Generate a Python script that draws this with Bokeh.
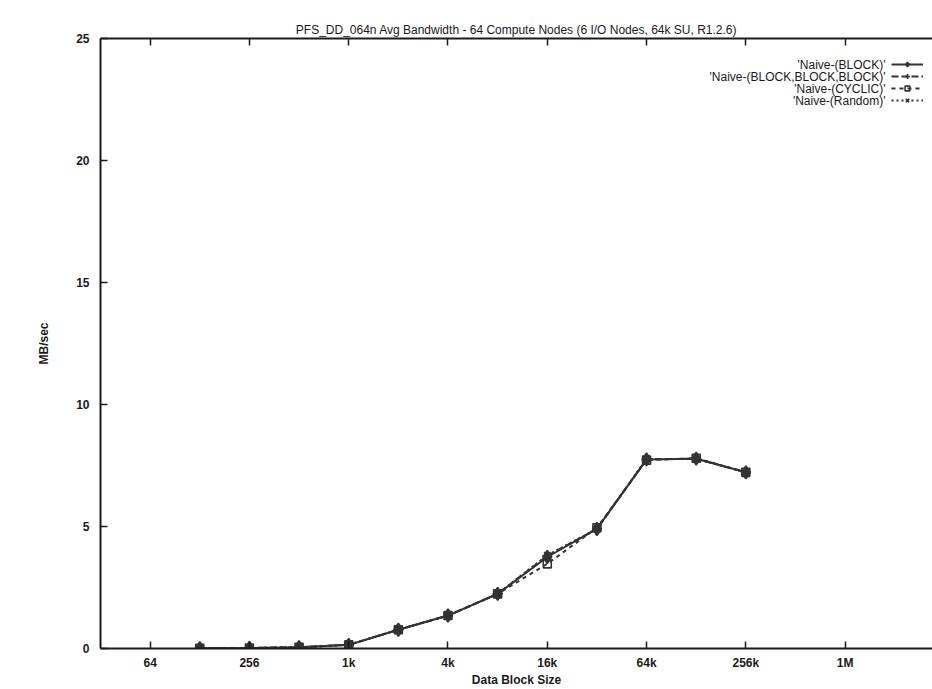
from bokeh.plotting import figure
from bokeh.models import (FixedTicker, LinearAxis, Label, Legend, LegendItem, Range1d)
from bokeh.embed import file_html
from bokeh.resources import INLINE

# ---- data ----
block_sizes = [128, 256, 512, 1024, 2048, 4096, 8192, 16384, 32768, 65536, 131072, 262144]
naive_block = [0.01, 0.02, 0.05, 0.15, 0.77, 1.35, 2.24, 3.75, 4.90, 7.75, 7.78, 7.22]
naive_bbb = [0.01, 0.02, 0.05, 0.15, 0.77, 1.35, 2.24, 3.80, 4.90, 7.75, 7.78, 7.22]
naive_cyclic = [0.01, 0.02, 0.05, 0.15, 0.77, 1.35, 2.24, 3.47, 4.95, 7.72, 7.80, 7.22]
naive_random = [0.01, 0.02, 0.05, 0.15, 0.77, 1.35, 2.24, 3.82, 4.90, 7.77, 7.77, 7.22]
x_tick_values = [64, 256, 1024, 4096, 16384, 65536, 262144, 1048576]
x_tick_labels = ["64", "256", "1k", "4k", "16k", "64k", "256k", "1M"]
y_tick_values = [0, 5, 10, 15, 20, 25]

title = "PFS_DD_064n Avg Bandwidth - 64 Compute Nodes (6 I/O Nodes, 64k SU, R1.2.6)"
FONT = "Liberation Sans"
INK = "#1a1a1a"
LINE = "#333333"

p = figure(width=932, height=689, output_backend="svg", toolbar_location=None,
           x_axis_type="log", x_range=Range1d(32, 2 ** 21.76), y_range=Range1d(0, 25),
           min_border_left=100, min_border_right=0, min_border_top=38, min_border_bottom=41,
           title=title)
p.outline_line_color = None
p.grid.visible = False
p.background_fill_color = "white"
p.border_fill_color = "white"

p.title.align = "center"
p.title.text_font = FONT
p.title.text_font_size = "12px"
p.title.text_font_style = "normal"
p.title.text_color = INK
p.title.offset = 0
p.title.standoff = 4

# bottom axis
xa = p.xaxis[0]
xa.ticker = FixedTicker(ticks=x_tick_values, minor_ticks=[])
xa.major_label_overrides = {v: l for v, l in zip(x_tick_values, x_tick_labels)}
xa.axis_label = "Data Block Size"
# left axis
ya = p.yaxis[0]
ya.ticker = FixedTicker(ticks=y_tick_values, minor_ticks=[])
ya.axis_label = "MB/sec"

for ax in (xa, ya):
    ax.axis_line_color = INK
    ax.axis_line_width = 2
    ax.major_tick_in = 7
    ax.major_tick_out = 0
    ax.major_tick_line_color = INK
    ax.major_tick_line_width = 1.5
    ax.minor_tick_line_color = None
    ax.major_label_text_font = FONT
    ax.major_label_text_font_size = "12px"
    ax.major_label_text_font_style = "bold"
    ax.major_label_text_color = INK
    ax.axis_label_text_font = FONT
    ax.axis_label_text_font_size = "12px"
    ax.axis_label_text_font_style = "bold"
    ax.axis_label_text_color = INK

xa.major_label_standoff = 7
xa.axis_label_standoff = 0
ya.major_label_standoff = 11
ya.axis_label_standoff = 22

# top axis (ticks only)
top = LinearAxis()
top.ticker = FixedTicker(ticks=x_tick_values, minor_ticks=[])
top.axis_line_color = INK
top.axis_line_width = 2
top.major_tick_in = 7
top.major_tick_out = 0
top.major_tick_line_color = INK
top.major_tick_line_width = 1.5
top.minor_tick_line_color = None
top.major_label_text_font_size = "1px"
top.major_label_text_alpha = 0
top.major_label_standoff = 0
p.add_layout(top, "above")

# ---- series ----
series = [
    ("'Naive-(BLOCK)'", naive_block, "solid", "diamond", LINE, 13),
    ("'Naive-(BLOCK,BLOCK,BLOCK)'", naive_bbb, "7 3", "cross", None, 10),
    ("'Naive-(CYCLIC)'", naive_cyclic, "4 4", "square", "none", 8),
    ("'Naive-(Random)'", naive_random, "2 3", "x", None, 9),
]

items = []
for name, ys, dash, marker, fill, size in series:
    lr = p.line(block_sizes, ys, line_color=LINE, line_width=2, line_dash=dash)
    if fill == "none":
        sr = p.scatter(block_sizes, ys, marker=marker, size=size, line_color=LINE,
                       line_width=1.6, fill_alpha=0)
    else:
        sr = p.scatter(block_sizes, ys, marker=marker, size=size, line_color=LINE,
                       line_width=1.6, fill_color=fill if fill else LINE)
    items.append(LegendItem(label=" ", renderers=[lr, sr]))

# legend: glyph samples on the right, labels right-aligned to their left
leg = Legend(items=items, location=(791, 542), orientation="vertical",
             glyph_width=32, glyph_height=12, label_height=12, label_width=0,
             label_standoff=0, spacing=0, padding=0, margin=0,
             border_line_alpha=0, background_fill_alpha=0,
             label_text_font_size="1px")
p.add_layout(leg, "center")

row_y = [584, 572, 560, 548]
for (name, *_), yy in zip(series, row_y):
    p.add_layout(Label(x=785, y=yy, x_units="screen", y_units="screen", text=name,
                       text_align="right", text_baseline="middle", text_font=FONT,
                       text_font_size="12px", text_color=INK))

open("out.html", "w").write(file_html(p, INLINE))
